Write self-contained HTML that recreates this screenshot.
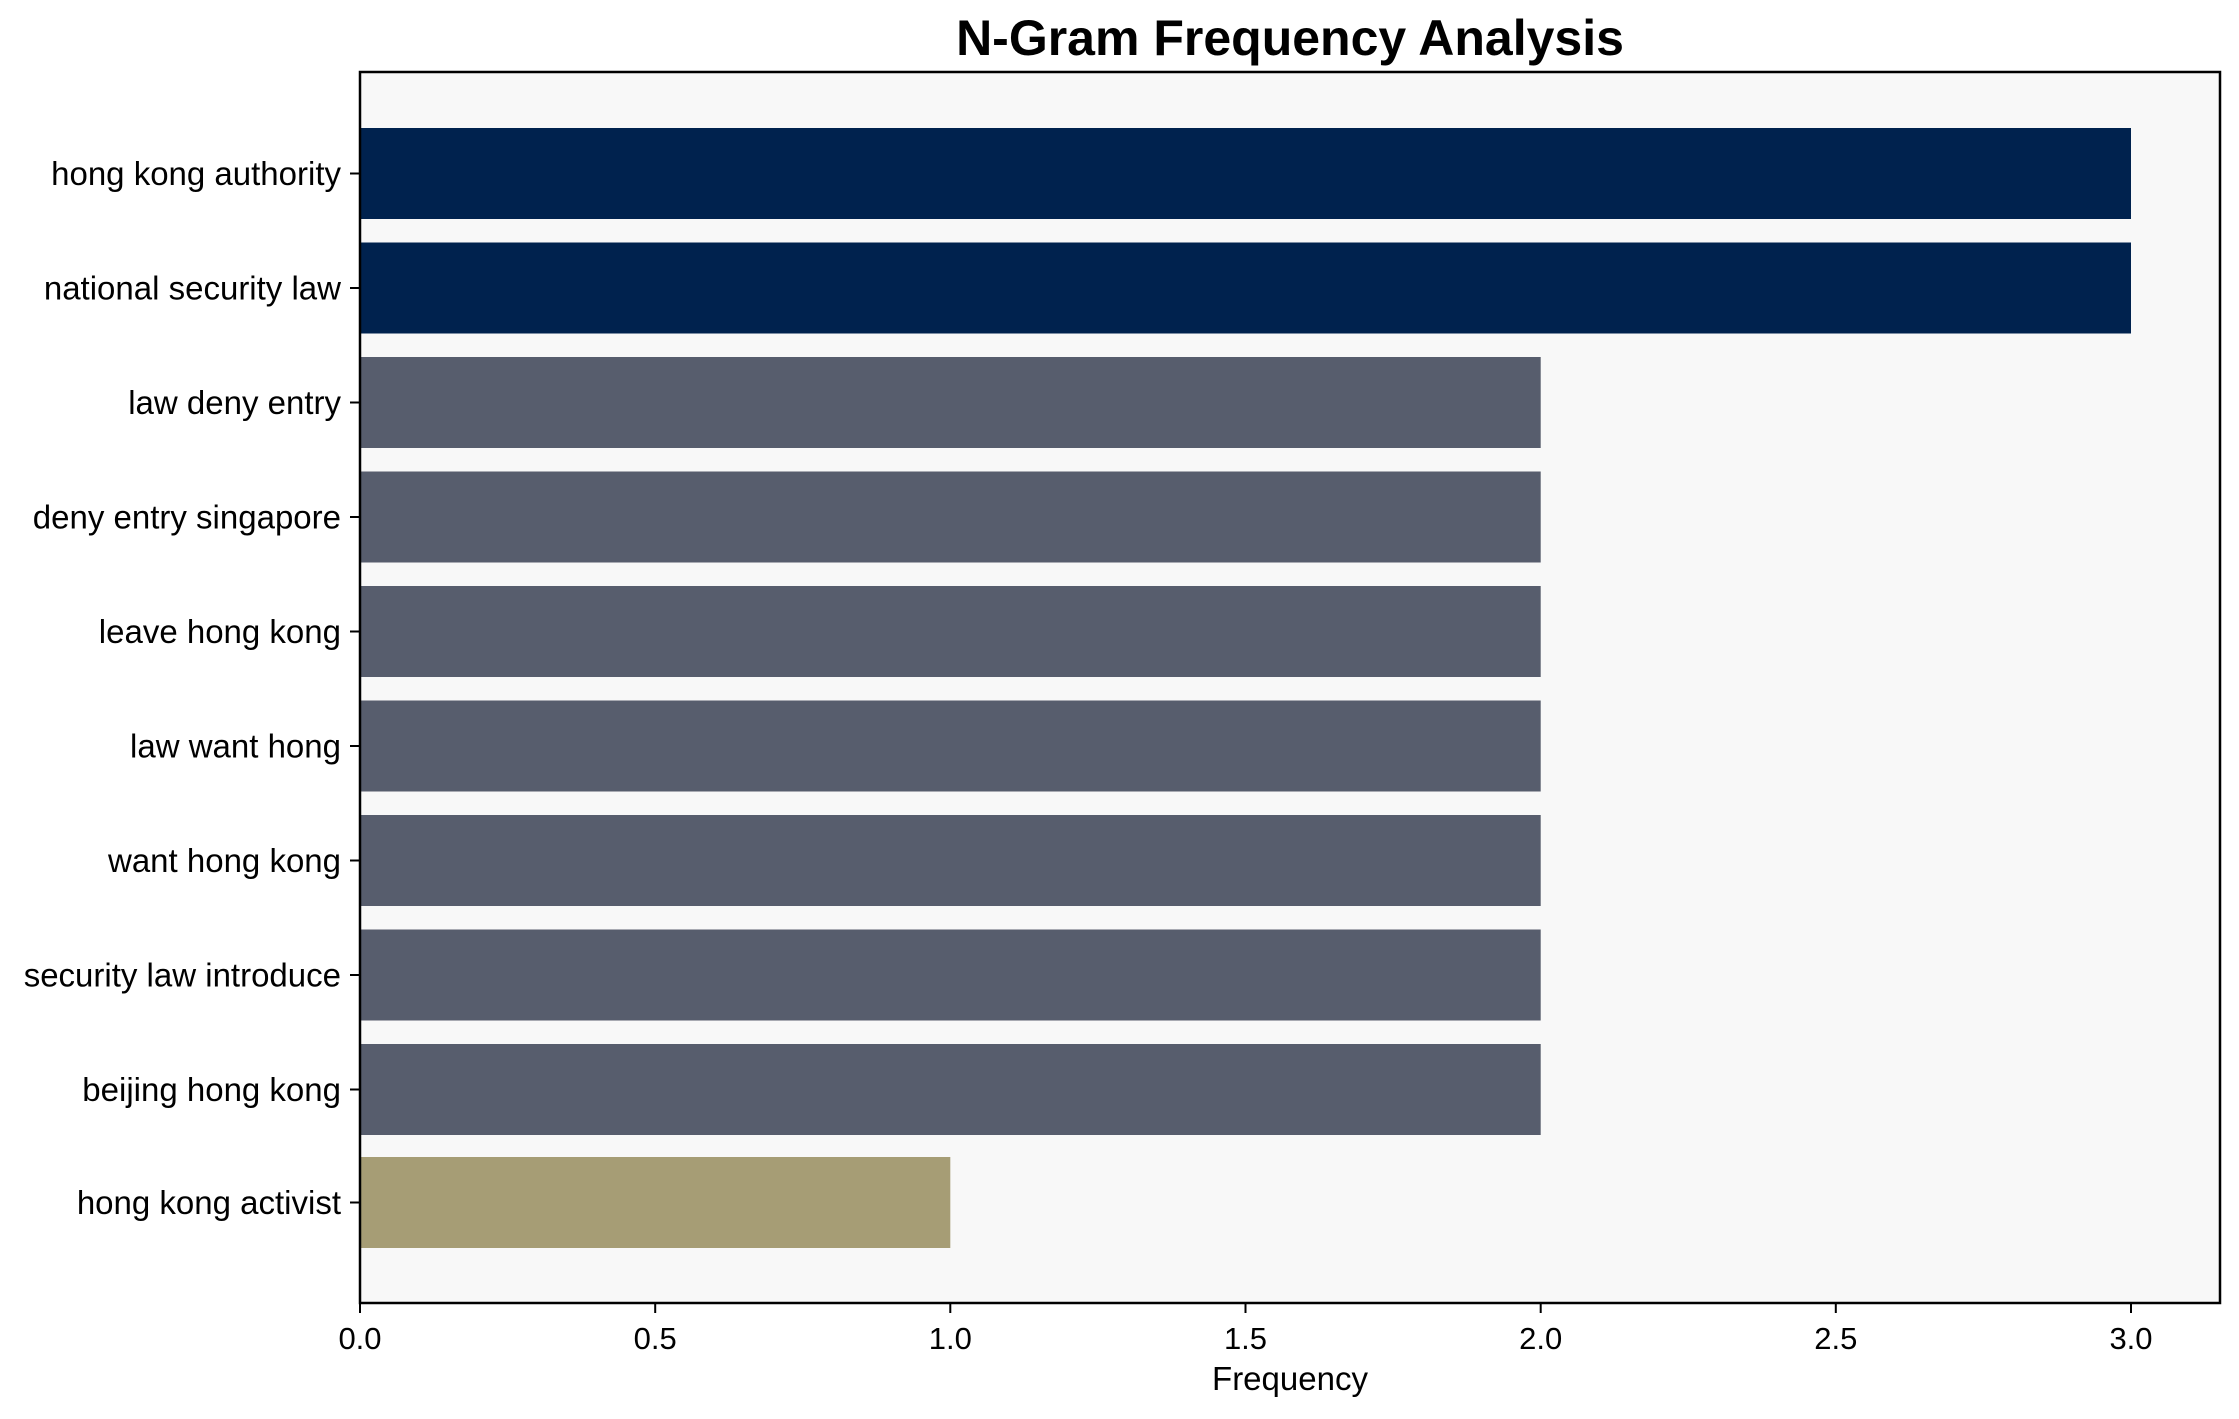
<!DOCTYPE html>
<html><head><meta charset="utf-8"><style>body{margin:0;background:#fff}</style></head><body>
<svg width="2239" height="1414" xmlns="http://www.w3.org/2000/svg" font-family="Liberation Sans, Arial, sans-serif">
<rect width="2239" height="1414" fill="#fff"/>
<rect x="360" y="72" width="1860" height="1231" fill="#f8f8f8"/>
<g>
<rect x="360" y="128" width="1771" height="91" fill="#00224e"/>
<rect x="360" y="242.5" width="1771" height="91" fill="#00224e"/>
<rect x="360" y="357" width="1180.7" height="91" fill="#575d6d"/>
<rect x="360" y="471.5" width="1180.7" height="91" fill="#575d6d"/>
<rect x="360" y="586" width="1180.7" height="91" fill="#575d6d"/>
<rect x="360" y="700.5" width="1180.7" height="91" fill="#575d6d"/>
<rect x="360" y="815" width="1180.7" height="91" fill="#575d6d"/>
<rect x="360" y="929.5" width="1180.7" height="91" fill="#575d6d"/>
<rect x="360" y="1044" width="1180.7" height="91" fill="#575d6d"/>
<rect x="360" y="1157" width="590.3" height="91" fill="#a69d75"/>
</g>
<rect x="360" y="72" width="1860" height="1231" fill="none" stroke="#000" stroke-width="2.5"/>
<g stroke="#000" stroke-width="2">
<line x1="350" x2="360" y1="173.5" y2="173.5"/><line x1="350" x2="360" y1="288" y2="288"/>
<line x1="350" x2="360" y1="402.5" y2="402.5"/><line x1="350" x2="360" y1="517" y2="517"/>
<line x1="350" x2="360" y1="631.5" y2="631.5"/><line x1="350" x2="360" y1="746" y2="746"/>
<line x1="350" x2="360" y1="860.5" y2="860.5"/><line x1="350" x2="360" y1="975" y2="975"/>
<line x1="350" x2="360" y1="1089.5" y2="1089.5"/><line x1="350" x2="360" y1="1202.5" y2="1202.5"/>
<line x1="360" x2="360" y1="1303" y2="1313"/><line x1="655.2" x2="655.2" y1="1303" y2="1313"/>
<line x1="950.3" x2="950.3" y1="1303" y2="1313"/><line x1="1245.5" x2="1245.5" y1="1303" y2="1313"/>
<line x1="1540.7" x2="1540.7" y1="1303" y2="1313"/><line x1="1835.8" x2="1835.8" y1="1303" y2="1313"/>
<line x1="2131" x2="2131" y1="1303" y2="1313"/>
</g>
<g font-size="33" text-anchor="end" fill="#000">
<text x="341" y="185">hong kong authority</text>
<text x="341" y="299.5">national security law</text>
<text x="341" y="414">law deny entry</text>
<text x="341" y="528.5">deny entry singapore</text>
<text x="341" y="643">leave hong kong</text>
<text x="341" y="757.5">law want hong</text>
<text x="341" y="872">want hong kong</text>
<text x="341" y="986.5">security law introduce</text>
<text x="341" y="1101">beijing hong kong</text>
<text x="341" y="1214">hong kong activist</text>
</g>
<g font-size="31" text-anchor="middle" fill="#000">
<text x="360" y="1349">0.0</text><text x="655.2" y="1349">0.5</text>
<text x="950.3" y="1349">1.0</text><text x="1245.5" y="1349">1.5</text>
<text x="1540.7" y="1349">2.0</text><text x="1835.8" y="1349">2.5</text>
<text x="2131" y="1349">3.0</text>
<text x="1290" y="1390" font-size="33">Frequency</text>
<text x="1290" y="55" font-size="50" font-weight="bold">N-Gram Frequency Analysis</text>
</g>
</svg>
</body></html>
